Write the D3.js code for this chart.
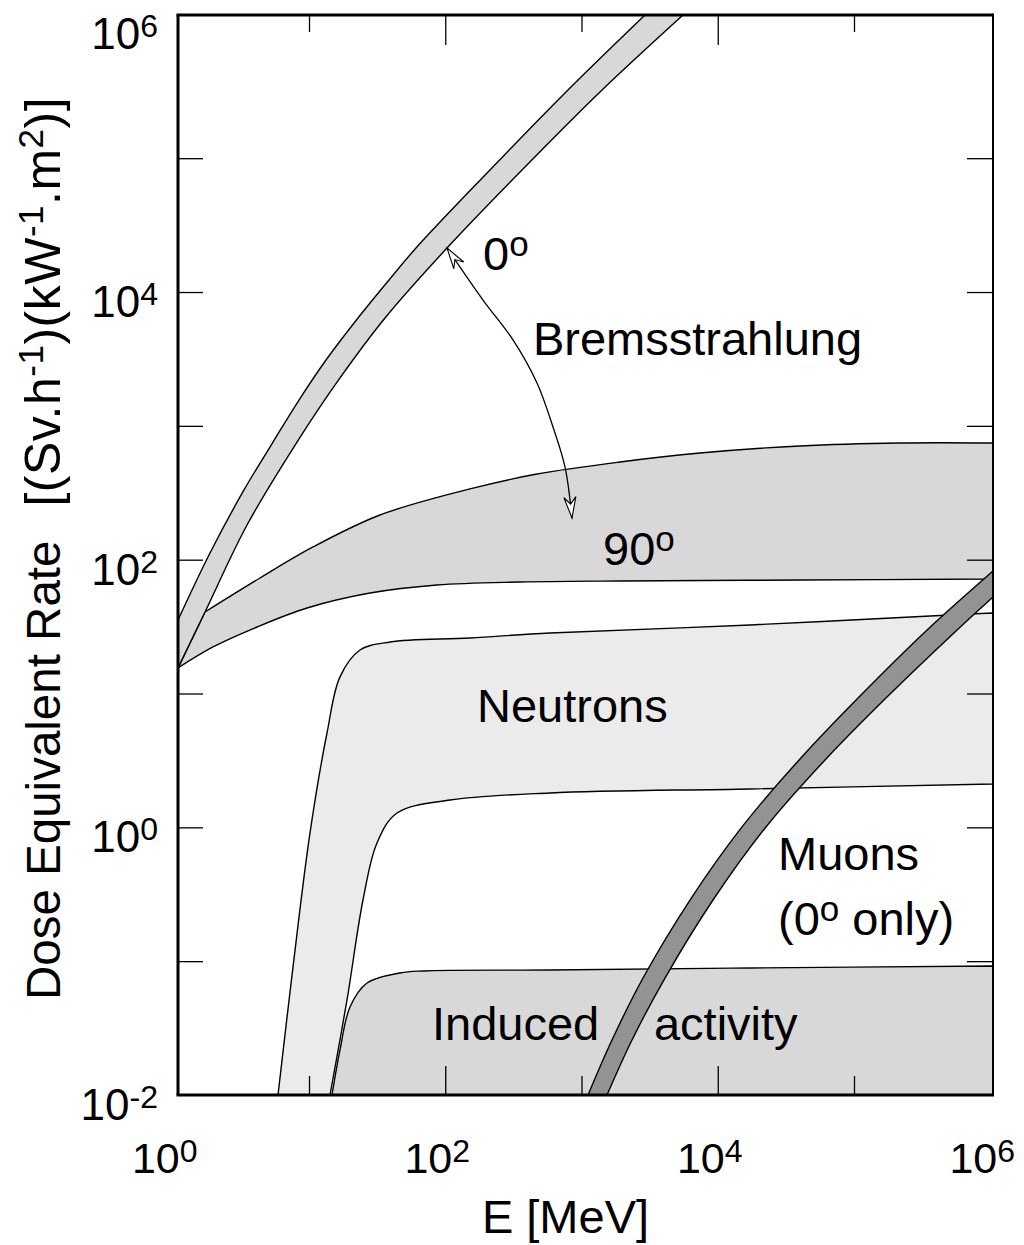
<!DOCTYPE html>
<html>
<head>
<meta charset="utf-8">
<script src="https://cdn.jsdelivr.net/npm/d3@7"></script>
<style>
  body { margin: 0; background: #fff; }
  text { font-family: "Liberation Sans", Arial, Helvetica, sans-serif; fill: #000; white-space: pre; }
</style>
</head>
<body>
<svg id="chart" width="1024" height="1245"></svg>
<script>
// Band edges as [log10 E (MeV), log10 dose equivalent rate]
const brems0Upper = [[0.0385,1.549],[0.2734,2.050],[0.5229,2.521],[0.7358,2.879],[0.9266,3.193],[1.1248,3.492],[1.3596,3.806],[1.5872,4.090],[1.7853,4.329],[2.3138,4.897],[2.8862,5.495],[3.4661,6.07]];
const brems0Lower = [[0.0385,1.191],[0.2367,1.609],[0.5450,2.259],[0.9120,2.879],[1.2275,3.358],[1.5580,3.806],[2.0128,4.329],[2.5490,4.897],[3.1358,5.495],[3.7450,6.07]];
// the 90 degree band branches off the lower edge of the 0 degree band
const brems90Upper = [[0.2367,1.609],[0.6404,1.863],[1.0294,2.095],[1.5211,2.334],[2.1817,2.529],[2.6734,2.640],[3.2826,2.730],[3.8697,2.797],[4.6037,2.850],[5.3376,2.872],[6.0202,2.872]];
const brems90Lower = [[0.0385,1.191],[0.2954,1.348],[0.6183,1.497],[0.9853,1.639],[1.4477,1.751],[1.9394,1.811],[2.5486,1.833],[3.2826,1.841],[4.6037,1.848],[6.0202,1.856]];
const neutronUpper = [[0.7725,-2.0],[0.8826,-1.043],[1.0073,-0.042],[1.1321,0.705],[1.2275,1.124],[1.3743,1.325],[1.5945,1.385],[2.1817,1.415],[2.7688,1.452],[4.2367,1.512],[5.7046,1.587],[6.0202,1.602]];
const neutronLower = [[1.1541,-2.0],[1.2789,-1.290],[1.3963,-0.543],[1.4991,-0.117],[1.6459,0.107],[2.0349,0.204],[2.7688,0.257],[4.2367,0.287],[6.0202,0.324]];
const inducedUpper = [[1.1688,-2.0],[1.2275,-1.663],[1.3009,-1.342],[1.4257,-1.163],[1.6679,-1.088],[1.8367,-1.073],[2.7688,-1.066],[4.2367,-1.051],[6.0202,-1.036]];
const inducedLower = [[1.1688,-2.0],[6.0202,-2.0]];
const muonUpper = [[3.0477,-2.0],[3.2239,-1.589],[3.4514,-1.126],[3.7963,-0.543],[4.1780,0.003],[4.6037,0.511],[5.0440,0.981],[5.5211,1.460],[6.0202,1.915]];
const muonLower = [[3.1872,-2.0],[3.3706,-1.589],[3.6128,-1.126],[3.9651,-0.543],[4.3541,0.003],[4.7945,0.511],[5.2495,0.981],[5.7413,1.460],[6.0202,1.721]];

// Double-headed arrow linking the 0 and 90 degree bremsstrahlung bands
const angleArrow = [[2.0128,4.329],[2.2771,3.940],[2.4972,3.642],[2.6734,3.320],[2.7908,2.991],[2.8789,2.693],[2.9303,2.311]];

// Tick decades
const xLabelExps = [0, 2, 4, 6];
const yLabelExps = [-2, 0, 2, 4, 6];
const xMajorTicks = [1e2, 1e4];
const xMinorTicks = [1e1, 1e3, 1e5];
const yTicks = [1e-1, 1e0, 1e1, 1e2, 1e3, 1e4, 1e5];

// Text annotations: pieces are [text, superscript?], anchored at [log10 E, log10 H]
const annotations = [
  { parts: [["0"], ["o", true]], at: [2.2771, 4.165] },
  { parts: [["Bremsstrahlung"]], at: [2.644, 3.529] },
  { parts: [["90"], ["o", true]], at: [3.1578, 1.960] },
  { parts: [["Neutrons"]], at: [2.233, 0.787] },
  { parts: [["Muons"]], at: [4.4422, -0.319] },
  { parts: [["(0"], ["o", true], [" only)"]], at: [4.4422, -0.804] },
  { parts: [["Induced"]], at: [1.9028, -1.589] },
  { parts: [["activity"]], at: [3.532, -1.589] }
];

const frame = { left: 178, right: 993, top: 15, bottom: 1095 };
const svg = d3.select("#chart");

const x = d3.scaleLog().domain([10 ** 0.0385, 10 ** 6.0202]).range([frame.left, frame.right]);
const y = d3.scaleLog().domain([1e-2, 10 ** 6.07]).range([frame.bottom, frame.top]);

const edge = d3.line()
  .x(d => x(10 ** d[0]))
  .y(d => y(10 ** d[1]))
  .curve(d3.curveCatmullRom.alpha(0.5));

function bandPath(upper, lower) {
  const a = edge(upper);
  const b = edge(lower.slice().reverse());
  return a + "L" + b.slice(1) + "Z";
}

const defs = svg.append("defs");
defs.append("clipPath").attr("id", "plot-clip")
  .append("rect")
  .attr("x", frame.left).attr("y", frame.top)
  .attr("width", frame.right - frame.left + 2).attr("height", frame.bottom - frame.top);

const plot = svg.append("g").attr("clip-path", "url(#plot-clip)");

const bands = [
  { upper: brems90Upper, lower: brems90Lower, fill: "#d8d8d8" },
  { upper: brems0Upper, lower: brems0Lower, fill: "#d8d8d8" },
  { upper: neutronUpper, lower: neutronLower, fill: "#ebebeb" },
  { upper: inducedUpper, lower: inducedLower, fill: "#d8d8d8" },
  { upper: muonUpper, lower: muonLower, fill: "#939393" }
];

plot.selectAll("path.band")
  .data(bands)
  .join("path")
  .attr("class", "band")
  .attr("d", d => bandPath(d.upper, d.lower))
  .attr("fill", d => d.fill)
  .attr("stroke", "#000")
  .attr("stroke-width", 1.4)
  .attr("stroke-linejoin", "round");

// Hollow arrowheads
defs.append("marker")
  .attr("id", "open-head")
  .attr("viewBox", "-23 -8 25 16")
  .attr("refX", 0).attr("refY", 0)
  .attr("markerWidth", 25).attr("markerHeight", 16)
  .attr("markerUnits", "userSpaceOnUse")
  .attr("orient", "auto-start-reverse")
  .append("path")
  .attr("d", "M0,0 L-21,-6 L-14,0 L-21,6 Z")
  .attr("fill", "#fff")
  .attr("stroke", "#000")
  .attr("stroke-width", 1.1)
  .attr("stroke-linejoin", "miter");

svg.append("path")
  .attr("d", edge(angleArrow))
  .attr("fill", "none")
  .attr("stroke", "#000")
  .attr("stroke-width", 1.3)
  .attr("marker-start", "url(#open-head)")
  .attr("marker-end", "url(#open-head)");

// Text with superscript pieces
function richText(sel, parts, size, supSize, rise) {
  let raised = false;
  parts.forEach(([str, sup]) => {
    const t = sel.append("tspan").text(str);
    if (sup && !raised) { t.attr("font-size", supSize).attr("dy", -rise); raised = true; }
    else if (!sup && raised) { t.attr("font-size", size).attr("dy", rise); raised = false; }
    else t.attr("font-size", sup ? supSize : size);
  });
}

annotations.forEach(a => {
  const t = svg.append("text")
    .attr("x", x(10 ** a.at[0]))
    .attr("y", y(10 ** a.at[1]))
    .attr("font-size", 47);
  richText(t, a.parts, 47, 35, 14);
});

// Frame
const frameLines = [
  { x1: frame.left, y1: frame.top, x2: frame.left, y2: frame.bottom, w: 3 },
  { x1: frame.left - 1.5, y1: frame.top, x2: frame.right, y2: frame.top, w: 3 },
  { x1: frame.left - 1.5, y1: frame.bottom, x2: frame.right + 1, y2: frame.bottom, w: 3 },
  { x1: frame.right, y1: frame.top - 1.5, x2: frame.right, y2: frame.bottom, w: 2 }
];
svg.selectAll("line.frame")
  .data(frameLines)
  .join("line")
  .attr("class", "frame")
  .attr("x1", d => d.x1).attr("y1", d => d.y1)
  .attr("x2", d => d.x2).attr("y2", d => d.y2)
  .attr("stroke", "#000")
  .attr("stroke-width", d => d.w);

// Inward ticks
function tickAxis(axis, transform) {
  svg.append("g")
    .attr("transform", transform)
    .call(axis.tickFormat(""))
    .call(g => g.select(".domain").remove())
    .call(g => g.selectAll("line").attr("stroke", "#000").attr("stroke-width", 1.3));
}
tickAxis(d3.axisBottom(x).tickValues(xMajorTicks).tickSize(-29), `translate(0,${frame.bottom})`);
tickAxis(d3.axisBottom(x).tickValues(xMinorTicks).tickSize(-19), `translate(0,${frame.bottom})`);
tickAxis(d3.axisTop(x).tickValues(xMajorTicks).tickSize(-30), `translate(0,${frame.top})`);
tickAxis(d3.axisTop(x).tickValues(xMinorTicks).tickSize(-17), `translate(0,${frame.top})`);
tickAxis(d3.axisLeft(y).tickValues(yTicks).tickSize(-25), `translate(${frame.left},0)`);
tickAxis(d3.axisRight(y).tickValues(yTicks).tickSize(-26), `translate(${frame.right},0)`);

// Tick labels (powers of ten)
xLabelExps.forEach(e => {
  const t = svg.append("text")
    .attr("x", x(10 ** e) - 8)
    .attr("y", 1173)
    .attr("text-anchor", "middle")
    .attr("font-size", 43);
  richText(t, [["10"], [String(e), true]], 43, 32, 11);
});
yLabelExps.forEach(e => {
  const t = svg.append("text")
    .attr("x", 158)
    .attr("y", y(10 ** e) + 25)
    .attr("text-anchor", "end")
    .attr("font-size", 44);
  richText(t, [["10"], [String(e), true]], 44, 32, 12);
});

// Axis titles
svg.append("text")
  .attr("x", (frame.left + frame.right) / 2 - 20)
  .attr("y", 1233)
  .attr("text-anchor", "middle")
  .attr("font-size", 47)
  .text("E [MeV]");

const yTitle = svg.append("text")
  .attr("transform", "translate(60,1000) rotate(-90)")
  .attr("font-size", 47.5);
yTitle.append("tspan").text("Dose Equivalent Rate");
const unitParts = [["[(Sv.h"], ["-1", true], [")(kW"], ["-1", true], [".m"], ["2", true], [")]"]];
let up = false;
unitParts.forEach(([str, sup], i) => {
  const t = yTitle.append("tspan").text(str)
    .attr("font-size", sup ? 35 : 50)
    .attr("letter-spacing", 0.5);
  if (i === 0) t.attr("dx", 34);
  if (sup && !up) { t.attr("dy", -17); up = true; }
  else if (!sup && up) { t.attr("dy", 17); up = false; }
});
</script>
</body>
</html>
